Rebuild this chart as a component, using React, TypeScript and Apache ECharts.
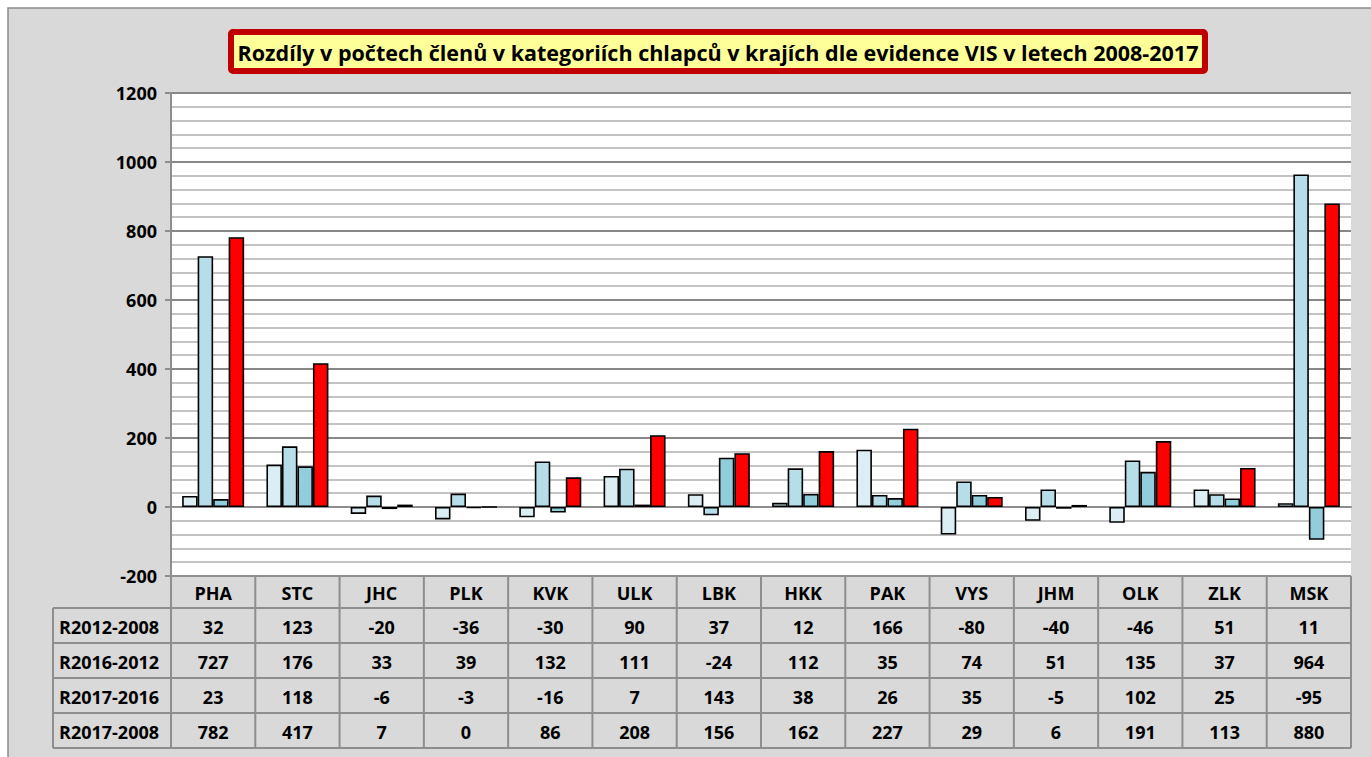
import React, { useEffect, useRef } from "react";
import * as echarts from "echarts";

const categories = ["PHA", "STC", "JHC", "PLK", "KVK", "ULK", "LBK", "HKK", "PAK", "VYS", "JHM", "OLK", "ZLK", "MSK"];
const seriesNames = ["R2012-2008", "R2016-2012", "R2017-2016", "R2017-2008"];
const r2012_2008 = [32, 123, -20, -36, -30, 90, 37, 12, 166, -80, -40, -46, 51, 11];
const r2016_2012 = [727, 176, 33, 39, 132, 111, -24, 112, 35, 74, 51, 135, 37, 964];
const r2017_2016 = [23, 118, -6, -3, -16, 7, 143, 38, 26, 35, -5, 102, 25, -95];
const r2017_2008 = [782, 417, 7, 0, 86, 208, 156, 162, 227, 29, 6, 191, 113, 880];
const seriesValues = [r2012_2008, r2016_2012, r2017_2016, r2017_2008];
const seriesColors = ["#daeef3", "#b7dde8", "#92cddc", "#ff0000"];
const titleText = "Rozdíly v počtech členů v kategoriích chlapců v krajích dle evidence VIS v letech 2008-2017";
const yMin = -200;
const yMax = 1200;
const yInterval = 200;

const W = 1371;
const H = 757;
const PLOT_L = 171;
const PLOT_R = 1351;
const PLOT_T = 93;
const PLOT_B = 576;
const HEADER_B = 608;
const ROW_H = 35;
const LABEL_L = 53;
const FONT = '"Open Sans", "Noto Sans", sans-serif';
const GRID_COLOR = "#8e8e8e";

function buildTable(): any[] {
  const els: any[] = [];
  const n = categories.length;
  const colW = (PLOT_R - PLOT_L) / n;
  const tableB = HEADER_B + ROW_H * seriesNames.length;
  const line = (x1: number, y1: number, x2: number, y2: number) => ({
    type: "line",
    shape: { x1, y1, x2, y2 },
    style: { stroke: GRID_COLOR, lineWidth: 2 },
    z: 10,
  });
  const text = (t: string, x: number, y: number, align: string) => ({
    type: "text",
    x,
    y,
    style: {
      text: t,
      align,
      verticalAlign: "middle",
      fill: "#000",
      fontFamily: FONT,
      fontWeight: "bold",
      fontSize: 18,
    },
    z: 11,
  });
  els.push(line(PLOT_L, PLOT_B, PLOT_R, PLOT_B));
  for (let r = 0; r <= seriesNames.length; r++) {
    const y = HEADER_B + r * ROW_H;
    els.push(line(LABEL_L, y, PLOT_R, y));
  }
  els.push(line(LABEL_L, HEADER_B, LABEL_L, tableB));
  for (let i = 0; i <= n; i++) {
    const x = PLOT_L + i * colW;
    els.push(line(x, PLOT_B, x, tableB));
  }
  categories.forEach((c, i) => {
    els.push(text(c, PLOT_L + (i + 0.5) * colW, (PLOT_B + HEADER_B) / 2 + 1, "center"));
  });
  seriesNames.forEach((name, r) => {
    const yc = HEADER_B + (r + 0.5) * ROW_H + 1;
    els.push(text(name, LABEL_L + 6, yc, "left"));
    seriesValues[r].forEach((v, i) => {
      els.push(text(String(v), PLOT_L + (i + 0.5) * colW, yc, "center"));
    });
  });
  return els;
}

export default function App() {
  const ref = useRef<HTMLDivElement>(null);
  useEffect(() => {
    if (!ref.current) return;
    const chart = echarts.init(ref.current, undefined, { renderer: "svg" });
    const option: any = {
      animation: false,
      backgroundColor: "#ffffff",
      textStyle: { fontFamily: FONT },
      grid: {
        left: PLOT_L,
        right: W - PLOT_R,
        top: PLOT_T,
        bottom: H - PLOT_B,
        containLabel: false,
      },
      xAxis: {
        type: "category",
        data: categories,
        axisLine: { show: true, onZero: true, lineStyle: { color: GRID_COLOR, width: 2 } },
        axisTick: { show: false },
        axisLabel: { show: false },
        splitLine: { show: false },
      },
      yAxis: {
        type: "value",
        min: yMin,
        max: yMax,
        interval: yInterval,
        axisLine: { show: true, lineStyle: { color: GRID_COLOR, width: 2 } },
        axisTick: { show: true, inside: false, length: 6, lineStyle: { color: GRID_COLOR, width: 2 } },
        axisLabel: {
          margin: 14,
          color: "#000",
          fontFamily: FONT,
          fontWeight: "bold",
          fontSize: 18,
          formatter: (v: number) => String(v),
        },
        splitLine: { show: true, lineStyle: { color: "#878787", width: 2 } },
        minorTick: { show: false, splitNumber: 5 },
        minorSplitLine: { show: true, lineStyle: { color: "#c3c3c3", width: 2 } },
      },
      series: seriesNames.map((name, s) => ({
        name,
        type: "bar",
        data: seriesValues[s],
        barWidth: 15.5,
        barGap: "0%",
        itemStyle: { color: seriesColors[s], borderColor: "#000", borderWidth: 1.6 },
        z: 5,
      })),
      graphic: [
        {
          type: "rect",
          shape: { x: 8, y: 8, width: W, height: H },
          style: { fill: "#d9d9d9", stroke: "#8a8a8a", lineWidth: 1.5 },
          z: -10,
          z2: 0,
          silent: true,
        },
        {
          type: "rect",
          shape: { x: PLOT_L, y: PLOT_T, width: PLOT_R - PLOT_L, height: PLOT_B - PLOT_T },
          style: { fill: "#ffffff" },
          z: -10,
          z2: 1,
          silent: true,
        },
        {
          type: "rect",
          shape: { x: 231, y: 32, width: 974, height: 39, r: 2 },
          style: { fill: "#ffff99", stroke: "#c00000", lineWidth: 6 },
          z: 10,
        },
        {
          type: "text",
          x: 718,
          y: 52,
          style: {
            text: titleText,
            align: "center",
            verticalAlign: "middle",
            fill: "#000",
            fontFamily: FONT,
            fontWeight: "bold",
            fontSize: 21.5,
          },
          z: 11,
        },
        ...buildTable(),
      ],
    };
    chart.setOption(option);
    return () => chart.dispose();
  }, []);
  return (
    <div
      ref={ref}
      style={{ position: "fixed", left: 0, top: 0, width: W, height: H }}
    />
  );
}
